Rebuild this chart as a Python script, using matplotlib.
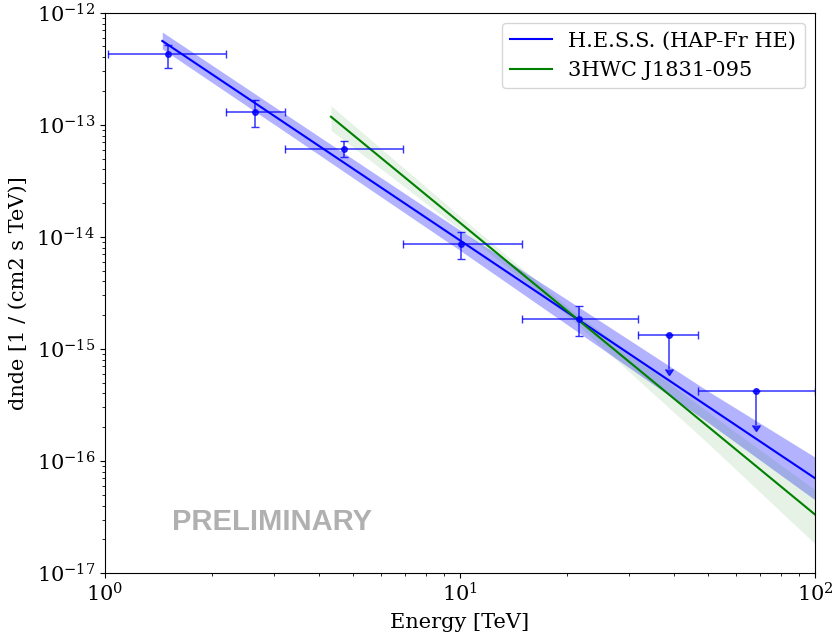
"""
H.E.S.S. vs 3HWC spectrum of J1831-095
"""
import matplotlib
matplotlib.use("Agg")
import matplotlib.pyplot as plt

# H.E.S.S. best-fit power law (end points) and butterfly
HESS_LINE_E = [1.45, 100.0]
HESS_LINE_DNDE = [5.6e-13, 7.0e-17]
HESS_BAND_E = [1.45, 3.5, 10.0, 22.0, 50.0, 100.0]
HESS_BAND_HI = [6.73e-13, 1.045e-13, 1.146e-14, 2.27e-15, 4.19e-16, 1.08e-16]
HESS_BAND_LO = [4.76e-13, 7.23e-14, 7.57e-15, 1.34e-15, 2.20e-16, 4.49e-17]

# 3HWC J1831-095 power law and butterfly
HAWC_LINE_E = [4.33, 100.0]
HAWC_LINE_DNDE = [1.18e-13, 3.32e-17]
HAWC_BAND_E = [4.33, 10.0, 20.0, 50.0, 100.0]
HAWC_BAND_HI = [1.48e-13, 1.53e-14, 2.40e-15, 2.72e-16, 5.51e-17]
HAWC_BAND_LO = [8.93e-14, 1.16e-14, 2.00e-15, 1.43e-16, 1.82e-17]

# H.E.S.S. flux points
FP_E = [1.50, 2.65, 4.71, 10.07, 21.6]
FP_E_MIN = [1.02, 2.19, 3.21, 6.91, 14.9]
FP_E_MAX = [2.19, 3.21, 6.91, 14.9, 31.7]
FP_DNDE = [4.3e-13, 1.31e-13, 6.1e-14, 8.7e-15, 1.86e-15]
FP_DNDE_HI = [5.2e-13, 1.67e-13, 7.1e-14, 1.1e-14, 2.4e-15]
FP_DNDE_LO = [3.2e-13, 9.6e-14, 5.2e-14, 6.4e-15, 1.29e-15]

# upper limits
UL_E = [38.8, 68.2]
UL_E_MIN = [31.7, 46.8]
UL_E_MAX = [46.8, 100.0]
UL_DNDE = [1.33e-15, 4.2e-16]

plt.rcParams['font.family'] = ['DejaVu Serif']
plt.rcParams['mathtext.fontset'] = 'dejavuserif'

fig = plt.figure(figsize=(8.36, 6.37), dpi=100)
ax = fig.add_axes([0.1256, 0.1005, 0.8494, 0.8795])

ax.fill_between(HESS_BAND_E, HESS_BAND_LO, HESS_BAND_HI, color='blue', alpha=0.3, lw=0)
ax.plot(HESS_LINE_E, HESS_LINE_DNDE, color='blue', lw=1.5, label='H.E.S.S. (HAP-Fr HE)')

ax.fill_between(HAWC_BAND_E, HAWC_BAND_LO, HAWC_BAND_HI, color='green', alpha=0.1, lw=0)
ax.plot(HAWC_LINE_E, HAWC_LINE_DNDE, color='green', lw=1.5, label='3HWC J1831-095')

xerr = [[e - lo for e, lo in zip(FP_E, FP_E_MIN)], [hi - e for e, hi in zip(FP_E, FP_E_MAX)]]
yerr = [[y - lo for y, lo in zip(FP_DNDE, FP_DNDE_LO)], [hi - y for y, hi in zip(FP_DNDE, FP_DNDE_HI)]]
ax.errorbar(FP_E, FP_DNDE, xerr=xerr, yerr=yerr, fmt='o', color='blue', ms=4,
            capsize=3, elinewidth=1.1, alpha=0.8)

ul_xerr = [[e - lo for e, lo in zip(UL_E, UL_E_MIN)], [hi - e for e, hi in zip(UL_E, UL_E_MAX)]]
ul_yerr = [0.5 * u for u in UL_DNDE]
ax.errorbar(UL_E, UL_DNDE, xerr=ul_xerr, yerr=ul_yerr, uplims=True, fmt='o', color='blue',
            ms=4, capsize=3, elinewidth=1.1, alpha=0.8)

ax.set_xscale('log')
ax.set_yscale('log')
ax.set_xlim(1, 100)
ax.set_ylim(1e-17, 1e-12)
ax.tick_params(labelsize=15)
ax.set_xlabel('Energy [TeV]', fontsize=15, labelpad=5)
ax.set_ylabel('dnde [1 / (cm2 s TeV)]', fontsize=15, labelpad=6)
ax.legend(loc='upper right', fontsize=15)

ax.text(0.235, 0.091, 'PRELIMINARY', transform=ax.transAxes, ha='center', va='center',
        fontsize=21, fontweight='bold', color='#b0b0b0', family='Liberation Sans')

fig.savefig('out.png', dpi=100)
